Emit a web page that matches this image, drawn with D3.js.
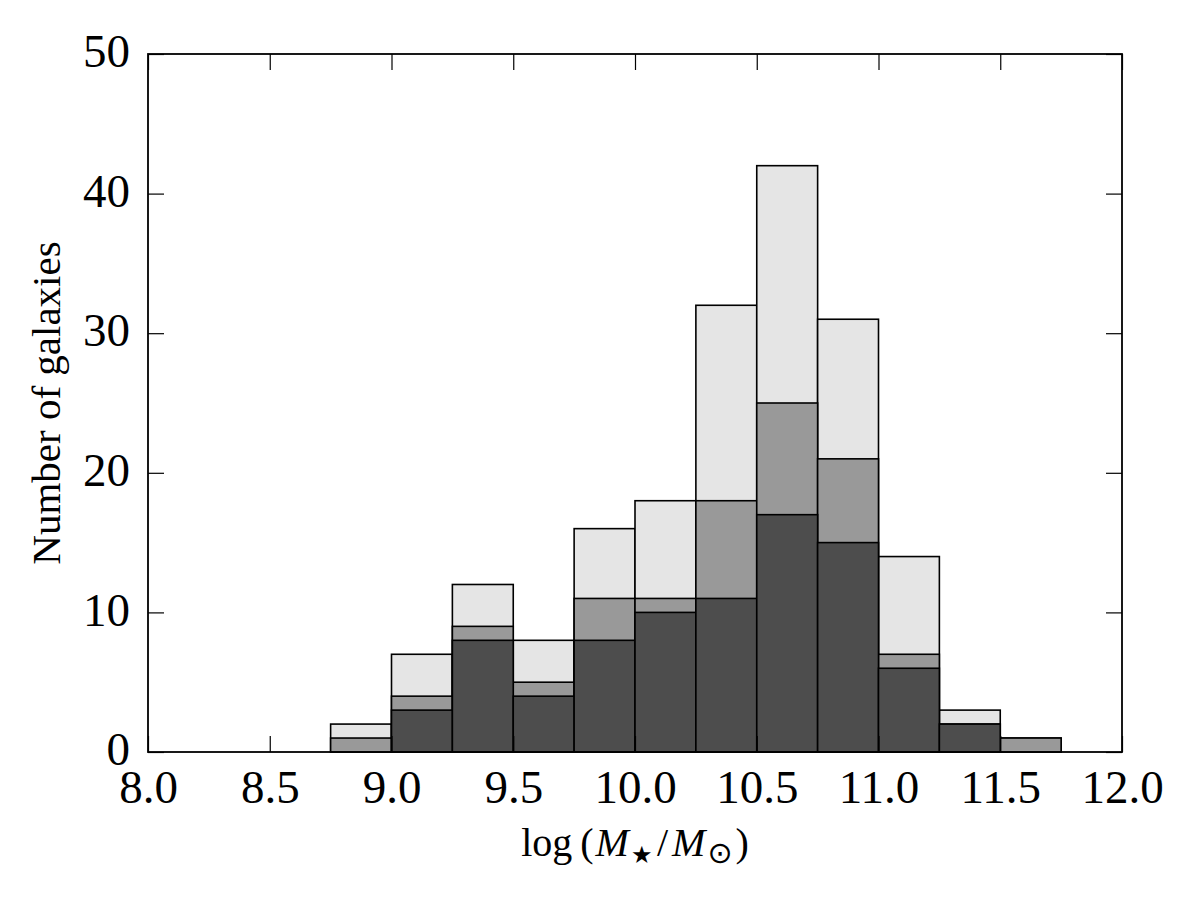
<!DOCTYPE html>
<html>
<head>
<meta charset="utf-8">
<script src="https://cdn.jsdelivr.net/npm/d3@7"></script>
<style>
  body { margin: 0; background: #fff; }
  text { font-family: "Liberation Serif", "DejaVu Serif", serif; }
</style>
</head>
<body>
<svg id="chart"></svg>
<script>
// histogram bins (left edges), width 0.25
const binStarts = [8.75, 9.0, 9.25, 9.5, 9.75, 10.0, 10.25, 10.5, 10.75, 11.0, 11.25, 11.5];
const allCounts = [2, 7, 12, 8, 16, 18, 32, 42, 31, 14, 3, 1];
const midCounts = [1, 4, 9, 5, 11, 11, 18, 25, 21, 7, 2, 1];
const innerCounts = [0, 3, 8, 4, 8, 10, 11, 17, 15, 6, 2, 0];
const binWidth = 0.25;
const xTicks = [8.0, 8.5, 9.0, 9.5, 10.0, 10.5, 11.0, 11.5, 12.0];
const yTicks = [0, 10, 20, 30, 40, 50];

const width = 1200;
const height = 900;
const margin = { top: 54, right: 78, bottom: 148, left: 148 };

const svg = d3.select("#chart").attr("width", width).attr("height", height);

const x = d3.scaleLinear().domain([8, 12]).range([margin.left, width - margin.right]);
const y = d3.scaleLinear().domain([0, 50]).range([height - margin.bottom, margin.top]);

const layers = [
  { counts: allCounts, fill: "#e5e5e5" },
  { counts: midCounts, fill: "#999999" },
  { counts: innerCounts, fill: "#4d4d4d" }
];

layers.forEach(layer => {
  svg.append("g")
    .selectAll("rect")
    .data(binStarts.map((b, i) => ({ b, v: layer.counts[i] })).filter(d => d.v > 0))
    .enter()
    .append("rect")
    .attr("x", d => x(d.b))
    .attr("width", d => x(d.b + binWidth) - x(d.b))
    .attr("y", d => y(d.v))
    .attr("height", d => y(0) - y(d.v))
    .attr("fill", layer.fill)
    .attr("stroke", "#000")
    .attr("stroke-width", 1.6);
});

// axes with inward ticks
const tickLen = 16;
const gBottom = svg.append("g").attr("transform", `translate(0,${y(0)})`)
  .call(d3.axisBottom(x).tickValues(xTicks).tickFormat(d3.format(".1f")).tickSizeInner(-tickLen).tickSizeOuter(0).tickPadding(18));
const gTop = svg.append("g").attr("transform", `translate(0,${y(50)})`)
  .call(d3.axisTop(x).tickValues(xTicks).tickFormat("").tickSizeInner(-tickLen).tickSizeOuter(0));
const gLeft = svg.append("g").attr("transform", `translate(${x(8)},0)`)
  .call(d3.axisLeft(y).tickValues(yTicks).tickFormat(d3.format("d")).tickSizeInner(-tickLen).tickSizeOuter(0).tickPadding(18));
const gRight = svg.append("g").attr("transform", `translate(${x(12)},0)`)
  .call(d3.axisRight(y).tickValues(yTicks).tickFormat("").tickSizeInner(-tickLen).tickSizeOuter(0));

[gBottom, gTop, gLeft, gRight].forEach(g => {
  g.selectAll(".domain").remove();
  g.selectAll(".tick line").attr("stroke", "#000").attr("stroke-width", 1.2);
  g.selectAll(".tick text")
    .attr("fill", "#000")
    .style("font-family", "'Liberation Serif', serif")
    .style("font-size", "47px");
});
gLeft.selectAll(".tick text").attr("dy", "0.27em");

// frame
svg.append("rect")
  .attr("x", x(8)).attr("y", y(50))
  .attr("width", x(12) - x(8)).attr("height", y(0) - y(50))
  .attr("fill", "none").attr("stroke", "#000").attr("stroke-width", 1.8);

// axis labels
svg.append("text")
  .attr("transform", `translate(60,${(y(0) + y(50)) / 2}) rotate(-90)`)
  .attr("text-anchor", "middle")
  .style("font-size", "41px")
  .text("Number of galaxies");

const xl = svg.append("text")
  .attr("x", (x(8) + x(12)) / 2)
  .attr("y", 856)
  .attr("text-anchor", "middle")
  .style("font-size", "40px");
xl.append("tspan").text("log");
xl.append("tspan").attr("dx", 8).text("(");
xl.append("tspan").attr("dx", 2).style("font-style", "italic").text("M");
xl.append("tspan").attr("dx", 2).attr("dy", 7).style("font-size", "24px").text("\u2605");
xl.append("tspan").attr("dx", 4).attr("dy", -7).text("/");
xl.append("tspan").attr("dx", 4).style("font-style", "italic").text("M");
xl.append("tspan").attr("dx", 2).attr("dy", 7).style("font-size", "30px").style("font-family", "'DejaVu Sans', sans-serif").text("\u2299");
xl.append("tspan").attr("dx", 3).attr("dy", -7).text(")");
</script>
</body>
</html>
